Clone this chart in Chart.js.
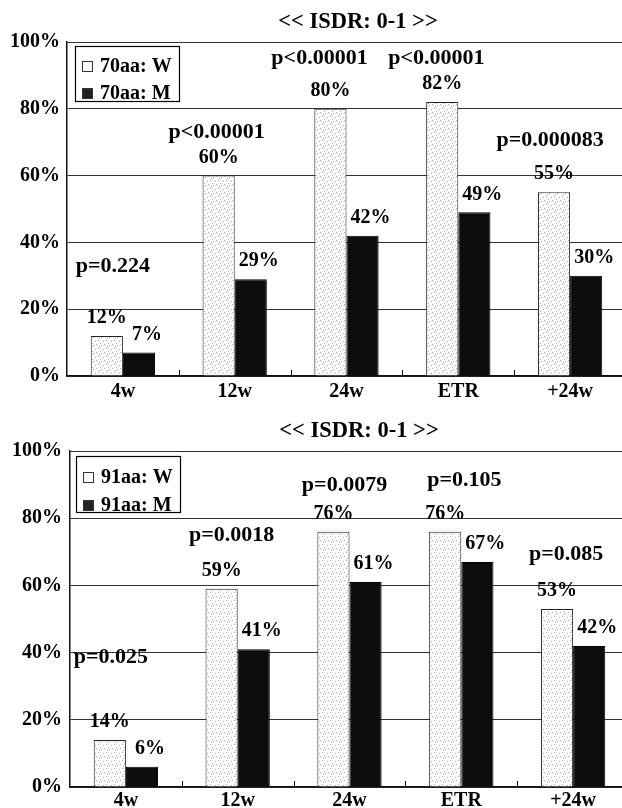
<!DOCTYPE html>
<html>
<head>
<meta charset="utf-8">
<script src="https://cdn.jsdelivr.net/npm/chart.js@4.4.1/dist/chart.umd.min.js"></script>
<style>
  body { margin: 0; background: #fff; overflow: hidden; width: 622px; height: 808px; position: relative; }
  .box { position: absolute; left: 0; width: 640px; height: 404px; }
</style>
</head>
<body>
<div class="box" style="top:0"><canvas id="chartTop" width="640" height="404"></canvas></div>
<div class="box" style="top:404px"><canvas id="chartBottom" width="640" height="404"></canvas></div>
<script>
// data
const categories = ["4w", "12w", "24w", "ETR", "+24w"];
const yTickValues = [0, 20, 40, 60, 80, 100];
const chartTitle = "<< ISDR: 0-1 >>";

const names70 = ["70aa: W", "70aa: M"];
const values70W = [12, 60, 80, 82, 55];
const values70M = [7, 29, 42, 49, 30];
const pValues70 = ["p=0.224", "p<0.00001", "p<0.00001", "p<0.00001", "p=0.000083"];

const names91 = ["91aa: W", "91aa: M"];
const values91W = [14, 59, 76, 76, 53];
const values91M = [6, 41, 61, 67, 42];
const pValues91 = ["p=0.025", "p=0.0018", "p=0.0079", "p=0.105", "p=0.085"];

const FONT = "'Liberation Serif', 'DejaVu Serif', serif";

// stippled light fill for the W bars
function stipple() {
  const c = document.createElement("canvas");
  c.width = 8; c.height = 8;
  const g = c.getContext("2d");
  g.fillStyle = "#fdfdfd";
  g.fillRect(0, 0, 8, 8);
  g.fillStyle = "#a8a8a8";
  [[0, 0], [5, 1], [2, 4], [7, 5], [4, 7], [3, 2]].forEach(([x, y]) => g.fillRect(x, y, 1, 1));
  return g.createPattern(c, "repeat");
}
const lightFill = stipple();

// draws title, legend box, labels and the small category ticks
const extras = {
  id: "extras",
  afterDraw(chart, args, opts) {
    const ctx = chart.ctx;
    const ca = chart.chartArea;
    const xs = chart.scales.x;
    ctx.save();
    ctx.fillStyle = "#000";
    ctx.strokeStyle = "#000";

    // small ticks between categories
    ctx.lineWidth = 1;
    for (let j = 0; j < categories.length - 1; j++) {
      const x = Math.round((xs.getPixelForValue(j) + xs.getPixelForValue(j + 1)) / 2) + 0.5;
      ctx.beginPath();
      ctx.moveTo(x, ca.bottom);
      ctx.lineTo(x, ca.bottom - 6);
      ctx.stroke();
    }

    // title
    ctx.font = "bold 22.5px " + FONT;
    ctx.textAlign = "center";
    ctx.textBaseline = "middle";
    ctx.fillText(chartTitle, ca.left + opts.titleDx, ca.top - opts.titleLift);

    // value labels
    ctx.font = "bold 20px " + FONT;
    chart.data.datasets.forEach((ds, i) => {
      const meta = chart.getDatasetMeta(i);
      meta.data.forEach((bar, j) => {
        ctx.fillText(ds.data[j] + "%", bar.x + (i === 1 ? 8 : 0), bar.y - 18);
      });
    });

    // p values
    ctx.font = "bold 22px " + FONT;
    const wMeta = chart.getDatasetMeta(0);
    opts.pLabels.forEach((txt, j) => {
      const [dx, lift] = opts.pShift[j];
      ctx.fillText(txt, xs.getPixelForValue(j) + dx, wMeta.data[j].y - lift);
    });

    // legend box
    const lb = opts.legendBox;
    const bx = ca.left + lb.dx, by = ca.top + lb.dy;
    ctx.fillStyle = "#fff";
    ctx.fillRect(bx, by, lb.w, lb.h);
    ctx.lineWidth = 1.2;
    ctx.strokeRect(bx + 0.5, by + 0.5, lb.w, lb.h);
    ctx.font = "bold 20px " + FONT;
    ctx.textAlign = "left";
    chart.data.datasets.forEach((ds, i) => {
      const cy = by + lb.rows[i];
      ctx.fillStyle = i === 0 ? "#fff" : "#222";
      ctx.fillRect(bx + 7, cy - 5, 10, 10);
      ctx.lineWidth = 1;
      ctx.strokeStyle = "#333";
      ctx.strokeRect(bx + 7.5, cy - 4.5, 10, 10);
      ctx.fillStyle = "#000";
      ctx.fillText(ds.label, bx + 25, cy + 1);
    });
    ctx.restore();
  }
};

function makeChart(id, names, wVals, mVals, pLabels, layout) {
  return new Chart(document.getElementById(id), {
    type: "bar",
    data: {
      labels: categories,
      datasets: [
        { label: names[0], data: wVals, backgroundColor: lightFill, borderColor: "#222", borderWidth: 1 },
        { label: names[1], data: mVals, backgroundColor: "#0d0d0d", borderColor: "#000", borderWidth: 1 }
      ]
    },
    options: {
      responsive: false,
      animation: false,
      devicePixelRatio: 1,
      datasets: { bar: { categoryPercentage: 0.575, barPercentage: 1.0 } },
      layout: { padding: { top: layout.top, right: layout.right, left: 0, bottom: 0 } },
      scales: {
        x: {
          grid: { display: false },
          border: { display: true, color: "#111", width: 1.5 },
          ticks: { color: "#000", font: { family: FONT, size: 20, weight: "bold" }, padding: layout.xPad },
          afterFit: (s) => { s.height = layout.xHeight; }
        },
        y: {
          min: 0,
          max: 100,
          afterBuildTicks: (s) => { s.ticks = yTickValues.map(v => ({ value: v })); },
          grid: { color: "#333", lineWidth: 1, drawTicks: false },
          border: { display: true, color: "#111", width: 1.5 },
          ticks: {
            color: "#000",
            font: { family: FONT, size: 20, weight: "bold" },
            padding: layout.yPad,
            callback: (v) => v + "%"
          },
          afterFit: (s) => { s.width = layout.left; }
        }
      },
      plugins: {
        legend: { display: false },
        tooltip: { enabled: false },
        extras: {
          titleDx: layout.titleDx,
          titleLift: layout.titleLift,
          pLabels: pLabels,
          pShift: layout.pShift,
          legendBox: layout.legendBox
        }
      }
    },
    plugins: [extras]
  });
}

makeChart("chartTop", names70, values70W, values70M, pValues70, {
  top: 42, right: 14, left: 67, xHeight: 28, xPad: -4, yPad: 7,
  titleDx: 291, titleLift: 20,
  pShift: [[-10, 70], [-18, 43], [-27, 50], [-22, 44], [-20, 52]],
  legendBox: { dx: 8, dy: 4, w: 104, h: 55, rows: [20, 47] }
});

makeChart("chartBottom", names91, values91W, values91M, pValues91, {
  top: 47, right: 11, left: 70, xHeight: 21, xPad: -6, yPad: 8,
  titleDx: 289, titleLift: 20,
  pShift: [[-15, 83], [-6, 53], [-5, 46], [3, 51], [-7, 55]],
  legendBox: { dx: 6, dy: 5, w: 104, h: 56, rows: [21, 49] }
});
</script>
</body>
</html>
